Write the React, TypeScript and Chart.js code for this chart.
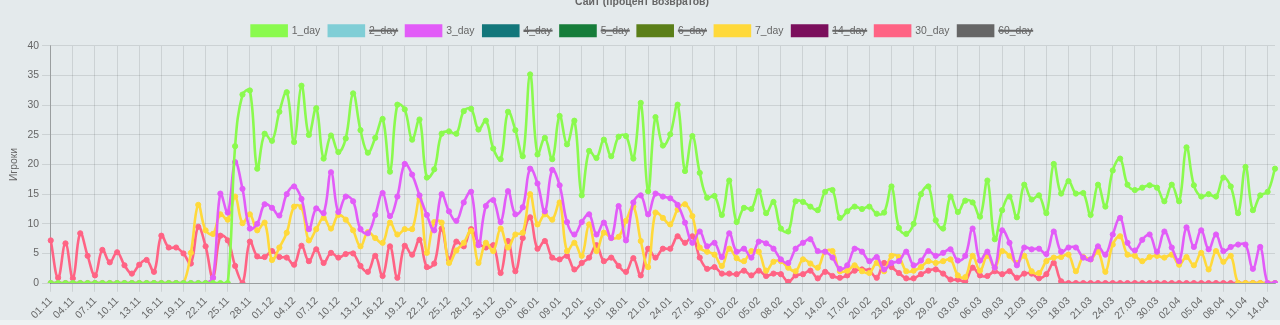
import React, { useEffect, useRef } from "react";
import { Chart, registerables } from "chart.js";

Chart.register(...registerables);

const TITLE = "Сайт (процент возвратов)";
const Y_TITLE = "Игроки";

const LABELS = [
  "01.11","02.11","03.11","04.11","05.11","06.11","07.11","08.11","09.11","10.11",
  "11.11","12.11","13.11","14.11","15.11","16.11","17.11","18.11","19.11","20.11",
  "21.11","22.11","23.11","24.11","25.11","26.11","27.11","28.11","29.11","30.11",
  "01.12","02.12","03.12","04.12","05.12","06.12","07.12","08.12","09.12","10.12",
  "11.12","12.12","13.12","14.12","15.12","16.12","17.12","18.12","19.12","20.12",
  "21.12","22.12","23.12","24.12","25.12","26.12","27.12","28.12","29.12","30.12","31.12",
  "01.01","02.01","03.01","04.01","05.01","06.01","07.01","08.01","09.01","10.01",
  "11.01","12.01","13.01","14.01","15.01","16.01","17.01","18.01","19.01","20.01",
  "21.01","22.01","23.01","24.01","25.01","26.01","27.01","28.01","29.01","30.01","31.01",
  "01.02","02.02","03.02","04.02","05.02","06.02","07.02","08.02","09.02","10.02",
  "11.02","12.02","13.02","14.02","15.02","16.02","17.02","18.02","19.02","20.02",
  "21.02","22.02","23.02","24.02","25.02","26.02","27.02","28.02","29.02",
  "01.03","02.03","03.03","04.03","05.03","06.03","07.03","08.03","09.03","10.03",
  "11.03","12.03","13.03","14.03","15.03","16.03","17.03","18.03","19.03","20.03",
  "21.03","22.03","23.03","24.03","25.03","26.03","27.03","28.03","29.03","30.03","31.03",
  "01.04","02.04","03.04","04.04","05.04","06.04","07.04","08.04","09.04","10.04",
  "11.04","12.04","13.04","14.04","15.04",
];

const DAY_1 = [
  0, 0, 0, 0, 0, 0, 0, 0, 0, 0,
  0, 0, 0, 0, 0, 0, 0, 0, 0, 0,
  0, 0, 0, 0, 0,
  23.1, 31.8, 32.5, 19.3, 25.2, 24.0, 28.9, 32.2, 23.8, 33.3,
  25.0, 29.5, 21.0, 24.9, 22.1, 24.4, 32.0, 25.8, 22.0, 24.5,
  27.7, 18.8, 30.1, 29.3, 24.2, 27.6, 17.8, 19.2, 25.2, 25.6,
  25.2, 29.0, 29.4, 25.9, 27.4, 22.7, 20.9, 28.9, 25.8, 21.4,
  35.2, 21.7, 24.5, 20.9, 28.2, 23.4, 27.4, 14.8, 22.3, 21.1,
  24.2, 21.4, 24.7, 24.8, 21.0, 30.4, 15.5, 28.0, 23.2, 25.1,
  30.1, 18.9, 24.8, 18.6, 14.4, 14.7, 11.5, 17.3, 10.3, 12.7,
  12.5, 15.5, 11.8, 13.7, 9.2, 8.7, 13.8, 13.7, 12.9, 12.3,
  15.4, 15.7, 11.0, 12.1, 12.9, 12.5, 12.9, 11.7, 11.9, 16.3,
  9.3, 8.3, 10.0, 15.0, 16.3, 10.6, 9.2, 14.6, 12.0, 13.9,
  13.6, 11.2, 17.3, 7.4, 12.3, 14.6, 11.1, 16.6, 14.1, 14.8,
  11.8, 20.1, 15.1, 17.2, 15.1, 15.2, 11.5, 16.6, 12.9, 19.0,
  21.0, 16.6, 15.7, 16.1, 16.5, 16.1, 13.8, 16.6, 13.8, 22.9,
  16.5, 14.6, 15.0, 14.6, 17.8, 16.3, 11.8, 19.6, 12.3, 14.8,
  15.4, 19.3,
];

const DAY_3 = [
  0, 0, 0, 0, 0, 0, 0, 0, 0, 0,
  0, 0, 0, 0, 0, 0, 0, 0, 0, 0,
  0, 0,
  0.9, 15.1, 11.9, 20.4, 15.9, 9.2, 10.0, 13.3, 12.7, 11.4,
  15.0, 16.3, 14.2, 9.1, 12.6, 11.8, 18.7, 12.0, 14.6, 13.8,
  9.1, 8.4, 11.5, 15.2, 11.3, 14.6, 20.1, 18.3, 14.8, 11.5,
  8.9, 15.0, 12.1, 10.5, 13.6, 15.4, 6.4, 13.0, 14.0, 10.3,
  15.5, 11.6, 12.8, 19.3, 16.8, 12.1, 19.1, 16.5, 10.3, 8.2,
  10.3, 11.6, 8.2, 10.2, 7.6, 13.0, 7.2, 13.6, 14.8, 11.6,
  15.1, 14.6, 14.3, 13.2, 10.2, 6.8, 8.7, 6.2, 6.8, 4.4,
  8.4, 5.3, 5.8, 4.3, 7.0, 6.7, 5.8, 4.0, 3.4, 5.8,
  6.8, 7.4, 5.4, 5.3, 4.3, 2.4, 3.0, 5.8, 5.3, 3.7,
  4.4, 2.3, 3.4, 3.7, 5.3, 3.0, 3.8, 5.4, 4.6, 5.1,
  5.7, 3.8, 4.6, 9.2, 3.8, 5.3, 2.6, 8.9, 6.8, 3.0,
  6.0, 5.7, 5.8, 4.9, 8.7, 5.3, 6.0, 6.0, 4.3, 4.0,
  6.2, 4.8, 8.2, 11.0, 6.8, 5.5, 7.3, 8.2, 5.3, 8.7,
  6.0, 3.7, 9.4, 6.1, 8.9, 5.7, 8.2, 5.4, 6.1, 6.5,
  6.5, 2.4, 6.1, 0, 0,
];

const DAY_7 = [
  0, 0, 0, 0, 0, 0, 0, 0, 0, 0,
  0, 0, 0, 0, 0, 0, 0, 0, 0,
  5.1, 13.2, 8.9, 8.3, 11.6, 10.7, 14.6, 10.1, 11.6, 8.9,
  10.2, 3.9, 6.0, 8.5, 12.9, 12.8, 7.2, 9.1, 11.0, 9.2,
  11.5, 10.7, 8.9, 6.2, 8.6, 7.6, 6.8, 10.2, 8.2, 9.1,
  9.1, 14.2, 5.1, 10.3, 10.2, 3.4, 5.5, 6.8, 8.8, 3.4,
  6.8, 5.4, 9.2, 6.0, 8.2, 8.5, 15.0, 9.9, 11.6, 10.7,
  13.6, 5.4, 6.8, 4.6, 9.9, 5.4, 8.5, 7.6, 7.8, 10.5,
  12.9, 7.1, 2.7, 11.9, 11.0, 9.9, 12.4, 13.3, 11.3, 6.0,
  5.3, 4.8, 2.9, 5.8, 4.2, 3.7, 5.4, 5.3, 2.1, 3.6,
  3.7, 2.6, 2.0, 4.0, 3.3, 2.6, 5.3, 5.4, 2.0, 2.1,
  3.0, 2.0, 1.7, 3.4, 2.0, 4.6, 4.4, 2.0, 2.1, 2.7,
  3.7, 3.4, 3.7, 4.0, 1.3, 1.0, 4.6, 2.1, 4.6, 2.6,
  5.4, 4.6, 3.4, 4.6, 2.0, 1.7, 3.7, 4.3, 4.4, 4.8,
  2.0, 4.4, 4.0, 5.3, 1.9, 6.5, 7.9, 4.8, 4.6, 3.7,
  4.4, 4.6, 4.3, 4.8, 3.1, 4.4, 3.0, 5.1, 2.3, 5.4,
  3.6, 4.6, 0, 0, 0, 0, 0, 0,
];

const DAY_30 = [
  7.2, 0.9, 6.7, 0.8, 8.4, 4.6, 1.3, 5.6, 3.5, 5.2,
  3.0, 1.6, 3.1, 3.9, 1.9, 8.0, 6.0, 6.0, 5.0, 3.3,
  9.5, 6.2, 0.9, 8.0, 7.2, 2.9, 0, 7.0, 4.5, 4.4,
  5.4, 4.4, 4.3, 3.1, 6.3, 3.7, 5.7, 3.4, 5.1, 4.3,
  4.9, 5.0, 2.9, 1.9, 4.6, 1.2, 6.2, 0.9, 6.3, 4.8,
  7.3, 2.7, 3.3, 9.2, 4.0, 7.0, 6.2, 9.1, 6.8, 6.0,
  6.4, 1.7, 7.1, 2.0, 7.6, 11.1, 5.8, 7.1, 4.3, 4.0,
  4.6, 2.3, 3.4, 4.3, 6.4, 3.7, 4.3, 2.9, 1.9, 4.2,
  1.3, 5.8, 4.3, 5.8, 5.8, 7.9, 6.8, 7.9, 4.3, 2.4,
  2.7, 1.6, 1.6, 1.5, 2.1, 1.3, 2.1, 1.2, 1.6, 1.5,
  0.2, 1.3, 1.5, 2.1, 0.8, 1.9, 1.2, 0.9, 1.3, 2.1,
  2.3, 2.1, 0.9, 3.4, 2.7, 1.7, 0.8, 0.8, 1.5, 2.1,
  2.3, 1.6, 0.6, 0.6, 0.3, 2.6, 1.3, 1.2, 2.0, 1.5,
  2.0, 0.9, 1.6, 1.6, 0.8, 1.5, 3.4, 0.3, 0, 0,
  0, 0, 0, 0, 0, 0, 0, 0, 0, 0,
  0, 0, 0, 0, 0, 0, 0, 0, 0, 0,
  0, 0, 0, 0, 0, 0, 0,
];

const SERIES_NAMES = ["1_day", "2_day", "3_day", "4_day", "5_day", "6_day", "7_day", "14_day", "30_day", "60_day"];
const SERIES_COLORS = ["#8AFA4E", "#80CED6", "#E25CF8", "#13777B", "#167D3A", "#5B7F19", "#FFD93A", "#7B0F5C", "#FF6384", "#666666"];
const SERIES_HIDDEN = [false, true, false, true, true, true, false, true, false, true];
const SERIES_DATA: number[][] = [DAY_1, [], DAY_3, [], [], [], DAY_7, [], DAY_30, []];

const GRID = "rgba(0,0,0,0.1)";
const AXIS = "rgba(0,0,0,0.25)";
const TEXT = "#666";
const FS = 10.4;

export default function App() {
  const ref = useRef<HTMLCanvasElement>(null);

  useEffect(() => {
    document.body.style.margin = "0";
    if (!ref.current) return;
    const chart = new Chart(ref.current, {
      type: "line",
      data: {
        labels: LABELS,
        datasets: SERIES_NAMES.map((name, i) => ({
          label: name,
          data: SERIES_DATA[i],
          hidden: SERIES_HIDDEN[i],
          borderColor: SERIES_COLORS[i],
          backgroundColor: SERIES_COLORS[i],
          pointBackgroundColor: SERIES_COLORS[i],
          pointBorderColor: SERIES_COLORS[i],
          borderWidth: 2.6,
          pointRadius: 2.6,
          pointBorderWidth: 1,
          tension: 0.4,
          fill: false,
        })),
      },
      options: {
        animation: false,
        responsive: true,
        maintainAspectRatio: false,
        layout: { padding: { left: 4, right: 0 } },
        plugins: {
          title: {
            display: true,
            text: TITLE,
            color: TEXT,
            font: { size: FS, weight: "bold" },
            padding: { top: 8.7, bottom: 8.7 },
          },
          legend: {
            labels: { color: TEXT, font: { size: FS }, boxWidth: 35, boxHeight: FS, padding: 8.7 },
          },
          tooltip: { enabled: false },
        },
        scales: {
          x: {
            afterFit: (scale: any) => {
              scale.paddingRight = 0;
            },
            grid: {
              color: (ctx: any) => (ctx.index % 3 === 0 ? GRID : "rgba(0,0,0,0)"),
              tickLength: 8.7,
            },
            border: { color: AXIS },
            ticks: {
              autoSkip: false,
              minRotation: 45,
              maxRotation: 45,
              color: TEXT,
              font: { size: FS },
              callback: (_v: any, i: number) => (i % 3 === 0 ? LABELS[i] : ""),
            },
          },
          y: {
            min: 0,
            max: 40,
            ticks: { stepSize: 5, color: TEXT, font: { size: FS } },
            title: { display: true, text: Y_TITLE, color: TEXT, font: { size: FS } },
            grid: { color: GRID, tickLength: 8.7 },
            border: { color: AXIS },
          },
        },
      },
    });
    return () => chart.destroy();
  }, []);

  return (
    <div style={{ position: "fixed", left: 0, top: 0, width: 1280, height: 325, background: "#eef2f3", overflow: "hidden" }}>
      <div style={{ position: "absolute", left: 0, top: 0, width: 1280, height: 320, background: "#e4eaec" }} />
      <div style={{ position: "absolute", left: 0, top: -13, width: 1280, height: 338 }}>
        <canvas ref={ref} />
      </div>
    </div>
  );
}
